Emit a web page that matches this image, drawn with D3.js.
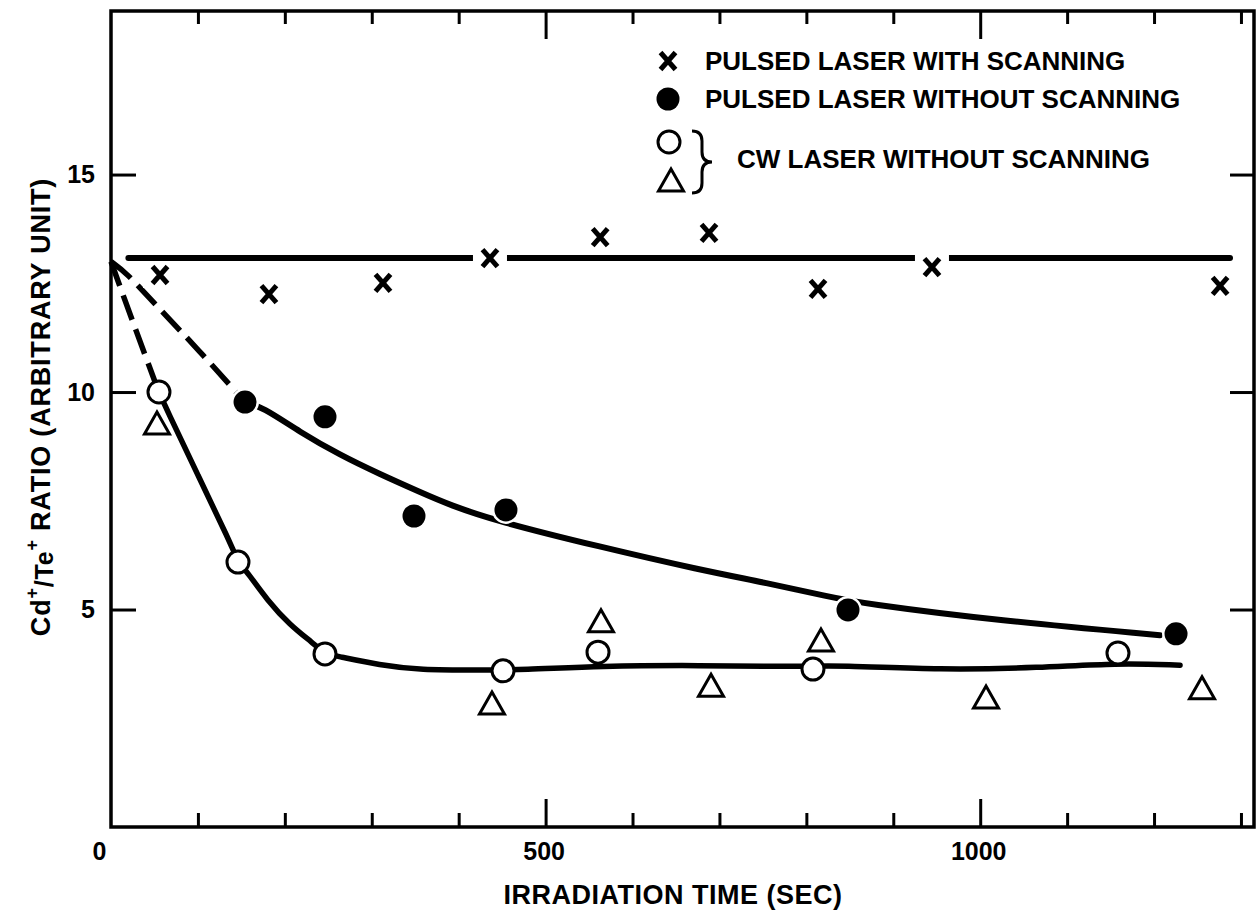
<!DOCTYPE html>
<html>
<head>
<meta charset="utf-8">
<script src="https://cdn.jsdelivr.net/npm/d3@7"></script>
<style>
  html, body { margin: 0; padding: 0; background: #fff; }
  svg { display: block; }
  text { font-family: "Liberation Sans", Arial, Helvetica, sans-serif; font-weight: bold; fill: #000; }
</style>
</head>
<body>
<svg id="chart" width="1257" height="915"></svg>
<script>
// ---- axis ticks and labels ----
const xMinorTicks = [100, 200, 300, 400, 600, 700, 800, 900, 1100, 1200, 1300];
const xMajorTicks = [500, 1000];
const xTickLabels = [0, 500, 1000];
const yTicks = [5, 10, 15];

// ---- measurements: irradiation time (s) and Cd+/Te+ ratio ----
// x : pulsed laser with scanning
const scanT = [56.4, 181.7, 312.9, 436, 562.8, 688, 813.4, 944.5, 1276];
const scanV = [12.69, 12.25, 12.51, 13.08, 13.56, 13.66, 12.37, 12.87, 12.44];
// filled circles : pulsed laser without scanning
const pulsedT = [154.2, 246.2, 348.6, 454.4, 847.9, 1225.3];
const pulsedV = [9.77, 9.43, 7.15, 7.29, 4.99, 4.44];
// open circles : cw laser without scanning
const cwCircleT = [55.2, 146.1, 246.2, 451, 560.3, 807.6, 1158.5];
const cwCircleV = [10.0, 6.09, 3.98, 3.59, 4.02, 3.63, 4.0];
// open triangles : cw laser without scanning
const cwTriT = [52.9, 438.3, 563.7, 690.3, 816.8, 1006.7, 1255.2];
const cwTriV = [9.29, 2.85, 4.74, 3.26, 4.30, 2.99, 3.20];

// ---- hand-fitted guide curves [time, ratio] ----
const scanFit = [[20, 13.08], [1287.4, 13.08]];
const pulsedDash = [[0, 13.0], [18, 12.74], [50, 12.03], [100, 10.99], [154, 9.77]];
const pulsedFit = [[154, 9.77], [173.7, 9.66], [217.4, 9.08], [263.5, 8.55], [309.5, 8.11],
  [355.5, 7.70], [390, 7.40], [444.1, 7.03], [562.6, 6.44], [677.6, 5.91], [754.7, 5.61],
  [827.2, 5.29], [861.7, 5.15], [1022.8, 4.74], [1206.8, 4.41]];
const cwDash = [[0, 13.0], [26, 11.56], [55, 10.0]];
const cwFit = [[55.2, 10.0], [63.3, 9.63], [100, 8.09], [137, 6.55], [146.1, 6.09], [157.6, 5.84],
  [179.5, 5.22], [206, 4.64], [232.4, 4.23], [246.2, 3.98], [260, 3.93], [309.5, 3.72],
  [355.5, 3.61], [424.5, 3.61], [472.8, 3.61], [562.6, 3.70], [677.6, 3.72], [784.6, 3.68],
  [838.7, 3.72], [953.8, 3.61], [1068.8, 3.66], [1157.4, 3.77], [1229.9, 3.72]];

// ---- legend ----
const legendLabels = ["PULSED LASER WITH SCANNING", "PULSED LASER WITHOUT SCANNING", "CW LASER WITHOUT SCANNING"];

const svg = d3.select("#chart");
const plotL = 111, plotR = 1254, plotT = 11, plotB = 827;

const x = d3.scaleLinear().domain([0, 1315]).range([plotL, plotR]);
const y = d3.scaleLinear().domain([0, 18.76]).range([plotB, plotT]);

// frame
svg.append("rect")
  .attr("x", plotL).attr("y", plotT)
  .attr("width", plotR - plotL).attr("height", plotB - plotT)
  .attr("fill", "none").attr("stroke", "#000").attr("stroke-width", 3.5);

function styleTicks(g) {
  g.select(".domain").remove();
  g.selectAll(".tick line").attr("stroke", "#000").attr("stroke-width", 3);
}

// inward ticks on all four sides
svg.append("g").attr("transform", `translate(0,${plotB})`)
  .call(d3.axisBottom(x).tickValues(xMinorTicks).tickSize(-14).tickFormat(""))
  .call(styleTicks);
svg.append("g").attr("transform", `translate(0,${plotB})`)
  .call(d3.axisBottom(x).tickValues(xMajorTicks).tickSize(-28).tickFormat(""))
  .call(styleTicks);
svg.append("g").attr("transform", `translate(0,${plotT})`)
  .call(d3.axisTop(x).tickValues(xMinorTicks).tickSize(-13).tickFormat(""))
  .call(styleTicks);
svg.append("g").attr("transform", `translate(0,${plotT})`)
  .call(d3.axisTop(x).tickValues(xMajorTicks).tickSize(-28).tickFormat(""))
  .call(styleTicks);
svg.append("g").attr("transform", `translate(${plotL},0)`)
  .call(d3.axisLeft(y).tickValues(yTicks).tickSize(-25).tickPadding(16).tickFormat(d3.format("d")))
  .call(styleTicks)
  .call(g => g.selectAll("text").attr("font-size", 25).attr("font-family", null).attr("fill", "#000"));
svg.append("g").attr("transform", `translate(${plotR},0)`)
  .call(d3.axisRight(y).tickValues(yTicks).tickSize(-24).tickFormat(""))
  .call(styleTicks);

// x tick labels (the origin label sits at the corner)
svg.append("g").attr("transform", `translate(0,${plotB})`)
  .call(d3.axisBottom(x).tickValues(xTickLabels).tickSize(0).tickPadding(15).tickFormat(d3.format("d")))
  .call(g => g.select(".domain").remove())
  .call(g => g.selectAll("text").attr("font-size", 25).attr("font-family", null).attr("fill", "#000")
    .attr("dx", d => d === 0 ? -12 : -2));

// axis titles
svg.append("text")
  .attr("x", 673).attr("y", 904)
  .attr("text-anchor", "middle").attr("font-size", 27)
  .attr("letter-spacing", 0.5)
  .text("IRRADIATION TIME (SEC)");

const yTitle = svg.append("text")
  .attr("transform", "translate(50,407) rotate(-90)")
  .attr("text-anchor", "middle").attr("font-size", 27)
  .attr("letter-spacing", 0.8);
yTitle.append("tspan").text("Cd");
yTitle.append("tspan").attr("font-size", 18).attr("dy", -12).text("+");
yTitle.append("tspan").attr("font-size", 25).attr("dy", 15).text("/Te");
yTitle.append("tspan").attr("font-size", 18).attr("dy", -15).text("+");
yTitle.append("tspan").attr("dy", 12).text(" RATIO (ARBITRARY UNIT)");

// guide curves
const lineGen = d3.line().x(d => x(d[0])).y(d => y(d[1])).curve(d3.curveBasis);
const straight = d3.line().x(d => x(d[0])).y(d => y(d[1]));

svg.append("path").attr("d", straight(scanFit))
  .attr("fill", "none").attr("stroke", "#000").attr("stroke-width", 6)
  .attr("stroke-linecap", "round");
svg.append("path").attr("d", lineGen(pulsedDash))
  .attr("fill", "none").attr("stroke", "#000").attr("stroke-width", 5.5)
  .attr("stroke-dasharray", "26,10");
svg.append("path").attr("d", lineGen(pulsedFit))
  .attr("fill", "none").attr("stroke", "#000").attr("stroke-width", 6)
  .attr("stroke-linecap", "round");
svg.append("path").attr("d", lineGen(cwDash))
  .attr("fill", "none").attr("stroke", "#000").attr("stroke-width", 5.5)
  .attr("stroke-dasharray", "26,10");
svg.append("path").attr("d", lineGen(cwFit))
  .attr("fill", "none").attr("stroke", "#000").attr("stroke-width", 5.5)
  .attr("stroke-linecap", "round");

// marker shapes
const crossPath = "M-7.5,-8.5L7.5,8.5M7.5,-8.5L-7.5,8.5";
const triPath = "M0,-11L12.5,11L-12.5,11Z";

// x markers with a white knockout so the fitted line breaks around them
const scanPts = scanT.map((t, i) => [t, scanV[i]]);
const xg = svg.append("g");
xg.selectAll("rect").data(scanPts).join("rect")
  .attr("x", d => x(d[0]) - 17).attr("y", d => y(d[1]) - 13)
  .attr("width", 34).attr("height", 26).attr("fill", "#fff");
xg.selectAll("path").data(scanPts).join("path")
  .attr("transform", d => `translate(${x(d[0])},${y(d[1])})`)
  .attr("d", crossPath).attr("fill", "none").attr("stroke", "#000")
  .attr("stroke-width", 5);

// filled circles
svg.append("g").selectAll("circle")
  .data(pulsedT.map((t, i) => [t, pulsedV[i]])).join("circle")
  .attr("cx", d => x(d[0])).attr("cy", d => y(d[1])).attr("r", 11.5)
  .attr("fill", "#000").attr("stroke", "#fff").attr("stroke-width", 5)
  .attr("paint-order", "stroke");

// open circles
svg.append("g").selectAll("circle")
  .data(cwCircleT.map((t, i) => [t, cwCircleV[i]])).join("circle")
  .attr("cx", d => x(d[0])).attr("cy", d => y(d[1])).attr("r", 11)
  .attr("fill", "#fff").attr("stroke", "#000").attr("stroke-width", 3);

// open triangles
svg.append("g").selectAll("path")
  .data(cwTriT.map((t, i) => [t, cwTriV[i]])).join("path")
  .attr("transform", d => `translate(${x(d[0])},${y(d[1])})`)
  .attr("d", triPath).attr("fill", "#fff").attr("stroke", "#000")
  .attr("stroke-width", 3).attr("stroke-linejoin", "miter");

// legend
const lg = svg.append("g");
lg.append("path").attr("transform", "translate(668,61)").attr("d", crossPath)
  .attr("fill", "none").attr("stroke", "#000").attr("stroke-width", 5);
lg.append("circle").attr("cx", 668).attr("cy", 99).attr("r", 11.5).attr("fill", "#000");
lg.append("circle").attr("cx", 669).attr("cy", 142).attr("r", 11)
  .attr("fill", "#fff").attr("stroke", "#000").attr("stroke-width", 3);
lg.append("path").attr("transform", "translate(671,180)").attr("d", triPath)
  .attr("fill", "#fff").attr("stroke", "#000").attr("stroke-width", 3);
lg.append("path")
  .attr("d", "M692,131 Q702,131 702,141 L702,152 Q702,162 712,162 Q702,162 702,172 L702,183 Q702,193 692,193")
  .attr("fill", "none").attr("stroke", "#000").attr("stroke-width", 3);
lg.selectAll("text.lab").data(legendLabels).join("text")
  .attr("class", "lab")
  .attr("x", (d, i) => i === 2 ? 737 : 705)
  .attr("y", (d, i) => [70, 108, 168][i])
  .attr("font-size", 26)
  .text(d => d);
</script>
</body>
</html>
